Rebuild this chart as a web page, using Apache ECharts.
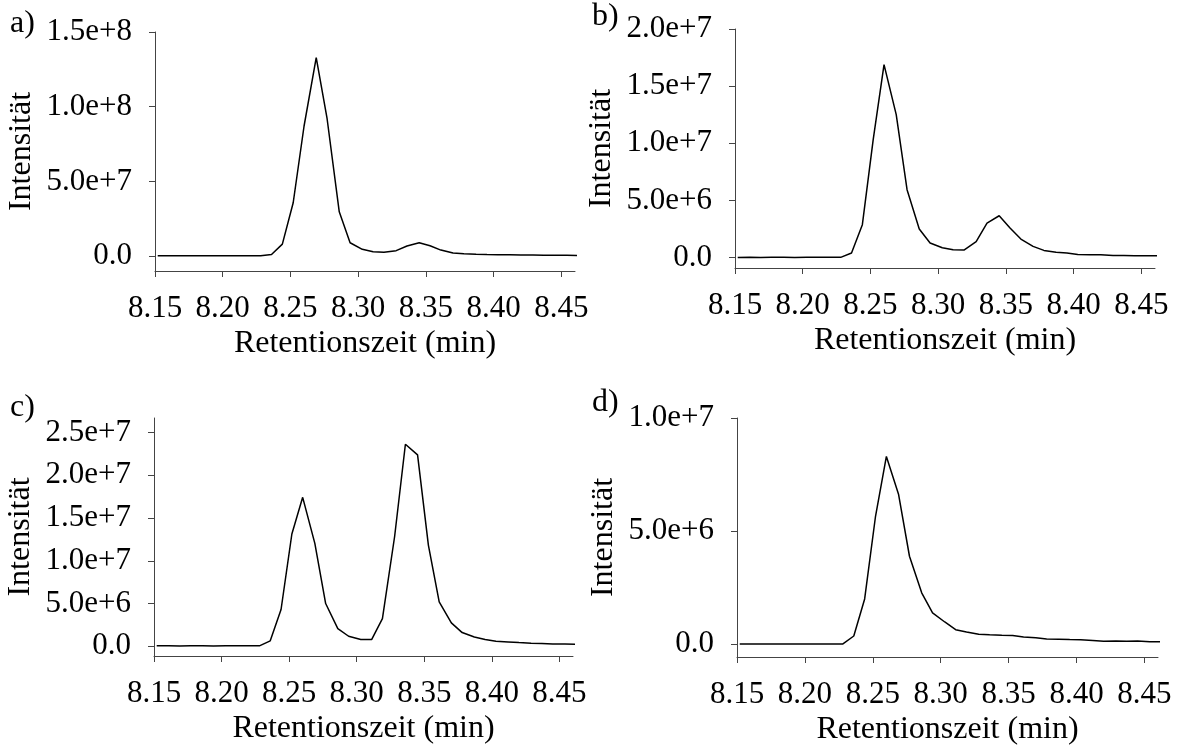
<!DOCTYPE html>
<html>
<head>
<meta charset="utf-8">
<script src="https://cdn.jsdelivr.net/npm/echarts@6/dist/echarts.min.js"></script>
<style>
  html, body { margin: 0; padding: 0; background: #fff; }
  #chart { width: 1181px; height: 753px; }
</style>
</head>
<body>
<div id="chart"></div>
<script>
// retention times (min), shared by all four chromatograms
const times = [8.152, 8.161, 8.169, 8.177, 8.186, 8.194, 8.203, 8.211, 8.219, 8.228,
  8.236, 8.244, 8.252, 8.260, 8.269, 8.277, 8.286, 8.294, 8.303, 8.311,
  8.319, 8.328, 8.336, 8.345, 8.353, 8.361, 8.370, 8.378, 8.387, 8.395,
  8.403, 8.412, 8.420, 8.429, 8.437, 8.445, 8.454, 8.462];

const intensA = [0.2e6, 0.2e6, 0.2e6, 0.2e6, 0.2e6, 0.2e6, 0.2e6, 0.2e6, 0.2e6, 0.2e6,
  1.1e6, 8.0e6, 35.7e6, 86.9e6, 132.9e6, 92.1e6, 29.6e6, 8.9e6, 4.5e6, 2.9e6,
  2.5e6, 3.6e6, 6.7e6, 8.9e6, 6.9e6, 4.0e6, 2.0e6, 1.5e6, 1.2e6, 1.0e6,
  0.9e6, 0.8e6, 0.7e6, 0.65e6, 0.6e6, 0.55e6, 0.5e6, 0.45e6];

const intensB = [0.02e6, 0.03e6, 0.02e6, 0.03e6, 0.03e6, 0.02e6, 0.03e6, 0.03e6, 0.03e6, 0.03e6,
  0.41e6, 2.89e6, 10.32e6, 16.88e6, 12.51e6, 5.95e6, 2.51e6, 1.28e6, 0.87e6, 0.70e6,
  0.67e6, 1.40e6, 3.03e6, 3.67e6, 2.59e6, 1.63e6, 0.99e6, 0.64e6, 0.47e6, 0.41e6,
  0.29e6, 0.26e6, 0.26e6, 0.20e6, 0.20e6, 0.18e6, 0.18e6, 0.17e6];

const intensC = [0.05e6, 0.05e6, 0.04e6, 0.05e6, 0.05e6, 0.04e6, 0.05e6, 0.05e6, 0.05e6, 0.05e6,
  0.63e6, 4.30e6, 13.13e6, 17.42e6, 12.03e6, 5.0e6, 2.07e6, 1.17e6, 0.78e6, 0.78e6,
  3.24e6, 12.81e6, 23.63e6, 22.38e6, 11.84e6, 5.2e6, 2.73e6, 1.60e6, 1.09e6, 0.78e6,
  0.59e6, 0.51e6, 0.43e6, 0.35e6, 0.31e6, 0.27e6, 0.25e6, 0.23e6];

const intensD = [0, 0, 0, 0, 0, 0, 0, 0, 0, 0,
  0.35e6, 1.99e6, 5.65e6, 8.30e6, 6.61e6, 3.88e6, 2.26e6, 1.37e6, 0.97e6, 0.63e6,
  0.53e6, 0.43e6, 0.40e6, 0.38e6, 0.37e6, 0.31e6, 0.27e6, 0.22e6, 0.21e6, 0.19e6,
  0.18e6, 0.15e6, 0.12e6, 0.13e6, 0.12e6, 0.13e6, 0.10e6, 0.09e6];

const xTicks = [8.15, 8.20, 8.25, 8.30, 8.35, 8.40, 8.45];
const yTicksA = [0, 5e7, 1e8, 1.5e8];
const yTicksB = [0, 5e6, 1e7, 1.5e7, 2e7];
const yTicksC = [0, 5e6, 1e7, 1.5e7, 2e7, 2.5e7];
const yTicksD = [0, 5e6, 1e7];
const panelNames = ['a)', 'b)', 'c)', 'd)'];

const FONT = 'Liberation Serif';
const FS_LABEL = 31;
const FS_NAME = 32;
const AXIS_COLOR = '#444';

const chart = echarts.init(document.getElementById('chart'));

// layout of the four panels (pixels)
const panels = [
  { grid: { left: 155, top: 32, width: 420, height: 239 }, yMin: -1e7, yMax: 1.5e8, ticks: yTicksA, data: intensA, tag: { x: 10, y: 26 } },
  { grid: { left: 735, top: 29, width: 420, height: 239 }, yMin: -0.9e6, yMax: 2e7, ticks: yTicksB, data: intensB, tag: { x: 592, y: 19 } },
  { grid: { left: 154, top: 418, width: 419, height: 238 }, yMin: -1.14e6, yMax: 2.67e7, ticks: yTicksC, data: intensC, tag: { x: 10, y: 410 } },
  { grid: { left: 737, top: 418, width: 421, height: 239 }, yMin: -0.58e6, yMax: 1e7, ticks: yTicksD, data: intensD, tag: { x: 592, y: 405 } }
];

const nameStyle = { fontFamily: FONT, fontSize: FS_NAME, color: '#000' };

const grids = [], xAxes = [], yAxes = [], series = [], graphics = [];

panels.forEach(function (p, i) {
  grids.push(Object.assign({ outerBoundsMode: 'none', containLabel: false }, p.grid));

  xAxes.push({
    type: 'value',
    gridIndex: i,
    min: 8.15,
    max: 8.46,
    name: 'Retentionszeit (min)',
    nameLocation: 'middle',
    nameGap: 57,
    nameTextStyle: nameStyle,
    axisLine: { onZero: false, lineStyle: { color: AXIS_COLOR, width: 1 } },
    axisTick: { customValues: xTicks, length: 6, lineStyle: { color: AXIS_COLOR } },
    axisLabel: {
      customValues: xTicks,
      margin: 22,
      fontFamily: FONT, fontSize: FS_LABEL, color: '#000',
      formatter: function (v) { return v.toFixed(2); }
    },
    splitLine: { show: false }
  });

  yAxes.push({
    type: 'value',
    gridIndex: i,
    min: p.yMin,
    max: p.yMax,
    name: 'Intensität',
    nameLocation: 'middle',
    nameGap: 117,
    nameTextStyle: nameStyle,
    axisLine: { show: true, lineStyle: { color: AXIS_COLOR, width: 1 } },
    axisTick: { show: true, customValues: p.ticks, length: 6, lineStyle: { color: AXIS_COLOR } },
    axisLabel: {
      customValues: p.ticks,
      margin: 23,
      fontFamily: FONT, fontSize: FS_LABEL, color: '#000',
      formatter: function (v) { return v === 0 ? '0.0' : v.toExponential(1); }
    },
    splitLine: { show: false }
  });

  series.push({
    type: 'line',
    xAxisIndex: i,
    yAxisIndex: i,
    showSymbol: false,
    clip: true,
    lineStyle: { color: '#000', width: 1.5 },
    data: times.map(function (t, k) { return [t, p.data[k]]; })
  });

  graphics.push({
    type: 'text',
    left: p.tag.x,
    top: p.tag.y - 18,
    style: { text: panelNames[i], font: FS_NAME + 'px "' + FONT + '"', fill: '#000' }
  });
});

chart.setOption({
  backgroundColor: '#fff',
  animation: false,
  grid: grids,
  xAxis: xAxes,
  yAxis: yAxes,
  series: series,
  graphic: graphics
});
</script>
</body>
</html>
